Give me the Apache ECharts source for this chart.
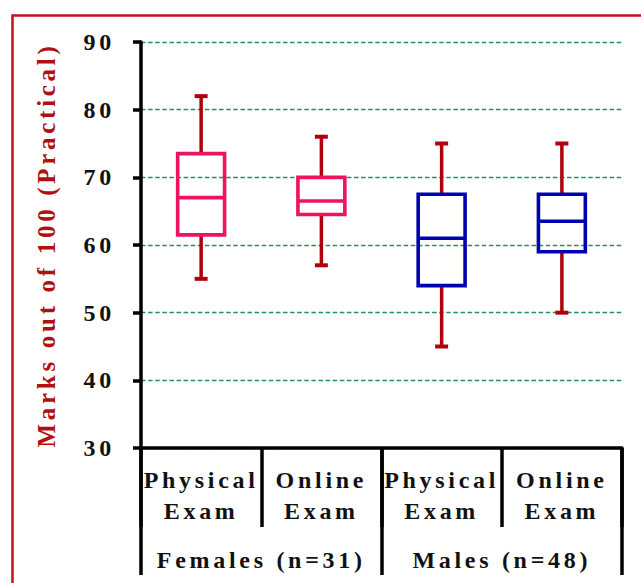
<!DOCTYPE html>
<html>
<head>
<meta charset="utf-8">
<script src="https://cdn.jsdelivr.net/npm/echarts@6/dist/echarts.min.js"></script>
<style>
    html, body { margin: 0; padding: 0; background: #fff; }
    #chart { width: 641px; height: 583px; }
    /* the original uses a bold serif face with widely spaced lettering */
    #chart text {
        letter-spacing: 3.7px;
        font-family: 'Liberation Serif', 'Times New Roman', serif !important;
        font-weight: bold !important;
    }
</style>
</head>
<body>
<div id="chart"></div>
<script>
// categories (two exam types for each group)
const categories = ['Physical\nExam', 'Online\nExam', 'Physical\nExam', 'Online\nExam'];
const groups = ['Females (n=31)', 'Males (n=48)'];
// box plot values, one per category
const lowWhisker  = [55, 57, 45, 50];
const lowerQuart  = [61.5, 64.5, 54, 59];
const medians     = [67, 66.5, 61, 63.5];
const upperQuart  = [73.5, 70, 67.5, 67.5];
const highWhisker = [82, 76, 75, 75];
const groupOf     = [0, 0, 1, 1];
const yTicks = [30, 40, 50, 60, 70, 80, 90];

const boxColors = ['#ee1262', '#0000b0'];
const whiskerColor = '#b0000c';
const serif = "'Liberation Serif', 'Times New Roman', serif";

let chart = echarts.init(document.getElementById('chart'), null, {renderer: 'svg'});

let boxData = categories.map((c, i) => [i, lowWhisker[i], lowerQuart[i], medians[i], upperQuart[i], highWhisker[i], groupOf[i]]);

function renderBox(params, api) {
    let x = api.value(0);
    let lo = api.coord([x, api.value(1)]);
    let q1 = api.coord([x, api.value(2)]);
    let md = api.coord([x, api.value(3)]);
    let q3 = api.coord([x, api.value(4)]);
    let hi = api.coord([x, api.value(5)]);
    let half = api.size([1, 0])[0] * 0.195;
    let cap = 6.5;
    let color = boxColors[api.value(6)];
    let wStyle = {stroke: whiskerColor, lineWidth: 3.5};
    let bStyle = {stroke: color, lineWidth: 3.6, fill: 'none'};
    return {
        type: 'group',
        children: [
            {type: 'line', shape: {x1: hi[0], y1: hi[1], x2: q3[0], y2: q3[1]}, style: wStyle},
            {type: 'line', shape: {x1: q1[0], y1: q1[1], x2: lo[0], y2: lo[1]}, style: wStyle},
            {type: 'line', shape: {x1: hi[0] - cap, y1: hi[1], x2: hi[0] + cap, y2: hi[1]}, style: {stroke: whiskerColor, lineWidth: 4}},
            {type: 'line', shape: {x1: lo[0] - cap, y1: lo[1], x2: lo[0] + cap, y2: lo[1]}, style: {stroke: whiskerColor, lineWidth: 4}},
            {type: 'rect', shape: {x: q3[0] - half, y: q3[1], width: half * 2, height: q1[1] - q3[1]}, style: bStyle},
            {type: 'line', shape: {x1: md[0] - half, y1: md[1], x2: md[0] + half, y2: md[1]}, style: {stroke: color, lineWidth: 3.6}}
        ]
    };
}

let option = {
    backgroundColor: '#fff',
    animation: false,
    graphic: [{
        type: 'rect',
        left: 10,
        top: 13,
        shape: {width: 700, height: 700},
        style: {fill: 'none', stroke: '#c0121c', lineWidth: 2.5},
        silent: true
    }],
    grid: {left: 141, right: 19, top: 42, bottom: 135},
    xAxis: [
        {
            type: 'category',
            data: categories,
            position: 'bottom',
            axisLine: {show: true, lineStyle: {color: '#000', width: 3.5}},
            axisTick: {show: true, interval: 0, length: 79, lineStyle: {color: '#000', width: 3.5}},
            axisLabel: {
                interval: 0,
                margin: 16,
                color: '#111',
                fontFamily: serif,
                fontWeight: 'bold',
                fontSize: 24,
                lineHeight: 31
            },
            splitLine: {show: false}
        },
        {
            type: 'category',
            data: groups,
            position: 'bottom',
            axisLine: {show: false},
            axisTick: {show: true, interval: 0, length: 127, lineStyle: {color: '#000', width: 3.5}},
            axisLabel: {
                interval: 0,
                margin: 100,
                color: '#111',
                fontFamily: serif,
                fontWeight: 'bold',
                fontSize: 24
            },
            splitLine: {show: false}
        }
    ],
    yAxis: {
        type: 'value',
        min: yTicks[0],
        max: yTicks[yTicks.length - 1],
        interval: 10,
        name: 'Marks out of 100 (Practical)',
        nameLocation: 'middle',
        nameGap: 82,
        nameTextStyle: {color: '#b01010', fontFamily: serif, fontWeight: 'bold', fontSize: 25},
        axisLine: {show: true, lineStyle: {color: '#000', width: 3.5}},
        axisTick: {show: true, length: 8, lineStyle: {color: '#000', width: 3.5}},
        axisLabel: {margin: 26, color: '#111', fontFamily: serif, fontWeight: 'bold', fontSize: 24},
        splitLine: {show: true, lineStyle: {color: '#23925a', width: 1.4, type: [4.5, 2.6]}}
    },
    series: [{
        type: 'custom',
        renderItem: renderBox,
        encode: {x: 0, y: [1, 2, 3, 4, 5]},
        data: boxData,
        z: 3
    }]
};

chart.setOption(option);
</script>
</body>
</html>
